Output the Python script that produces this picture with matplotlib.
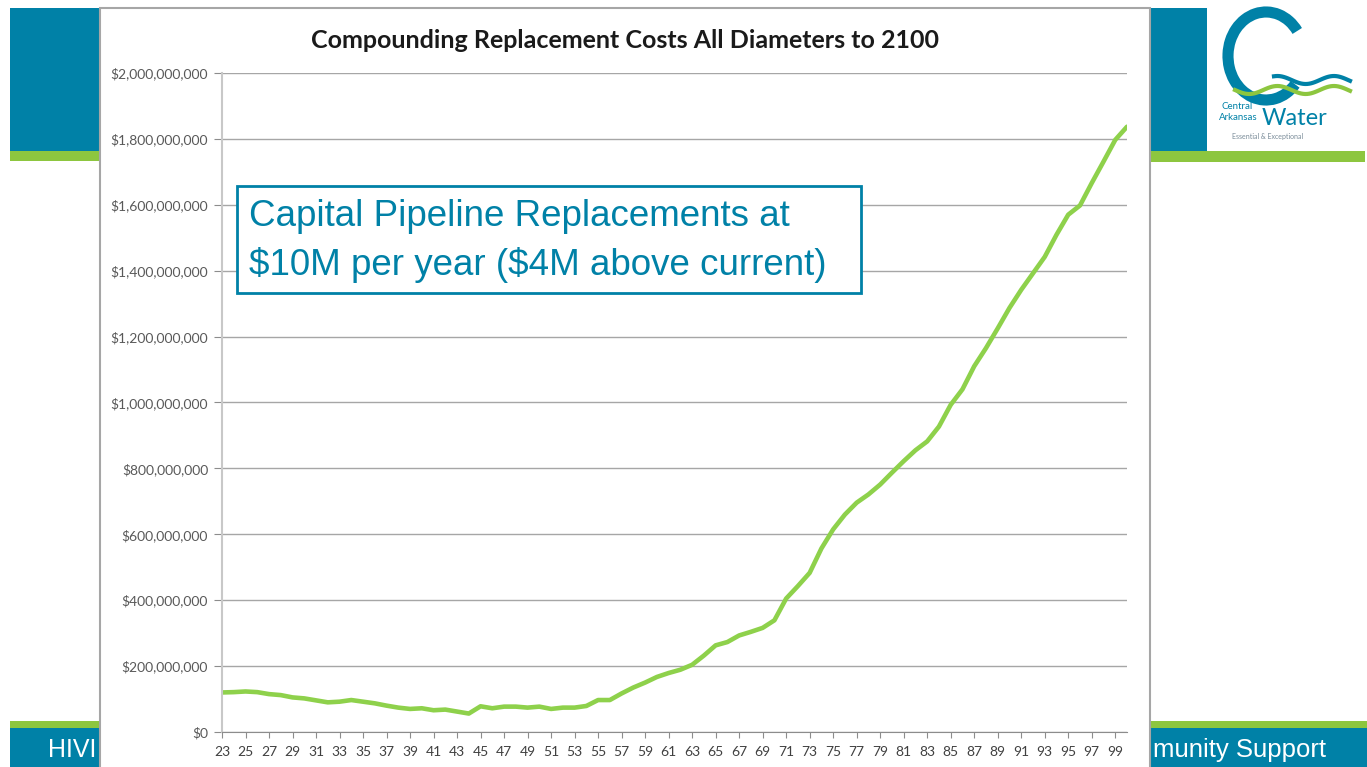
import numpy as np
import matplotlib.pyplot as plt
from matplotlib.patches import Rectangle, Arc
from matplotlib.ticker import FuncFormatter

plt.rcParams['text.parse_math'] = False

# compounding replacement cost by year (millions of dollars)
years = list(range(2023, 2101))
cost_m = [120, 121, 123, 121, 115, 112, 105, 102, 96, 90,
          92, 97, 92, 87, 80, 74, 70, 72, 66, 68,
          62, 56, 78, 72, 77, 77, 74, 77, 70, 74,
          74, 79, 97, 97, 117, 135, 150, 167, 179, 189,
          204, 232, 263, 273, 293, 304, 316, 339, 405, 443,
          483, 557, 615, 660, 696, 721, 751, 787, 822, 855,
          882, 927, 993, 1040, 1110, 1165, 1225, 1287, 1342, 1392,
          1442, 1509, 1570, 1598, 1666, 1731, 1797, 1837]
tick_years = list(range(2023, 2100, 2))
y_ticks = list(range(0, 2000000001, 200000000))

title = 'Compounding Replacement Costs All Diameters to 2100'
note_lines = ['Capital Pipeline Replacements at', '$10M per year ($4M above current)']

W, H = 1367, 767
TEAL = '#0081A7'
GREEN = '#8DC63F'
LINE = '#8ED14B'


def fx(px):
    return px / W


def fy(py):
    return 1 - py / H


def rect(x0, y0, x1, y1, **kw):
    # rectangle in pixel coords (y downward)
    r = Rectangle((fx(x0), fy(y1)), fx(x1) - fx(x0), fy(y0) - fy(y1),
                  transform=fig.transFigure, **kw)
    fig.add_artist(r)
    return r


fig = plt.figure(figsize=(W / 100, H / 100), dpi=100)
fig.patch.set_facecolor('white')

# slide decoration
rect(10, 8, 100, 151, facecolor=TEAL, edgecolor='none', zorder=1)
rect(10, 151, 100, 161, facecolor=GREEN, edgecolor='none', zorder=1)
rect(1150, 8, 1207, 151, facecolor=TEAL, edgecolor='none', zorder=1)
rect(1150, 151, 1365, 162, facecolor=GREEN, edgecolor='none', zorder=1)
rect(10, 721, 1367, 728, facecolor=GREEN, edgecolor='none', zorder=1)
rect(10, 728, 1367, 767, facecolor=TEAL, edgecolor='none', zorder=1)
fig.text(fx(48), fy(750), 'HIVI', color='white', fontsize=18,
         family='Liberation Sans', va='center', ha='left', zorder=1.5)
fig.text(fx(1153), fy(750), 'munity Support', color='white', fontsize=18.5,
         family='Liberation Sans', va='center', ha='left', zorder=1.5)

# logo
arc = Arc((fx(1266), fy(56)), fx(76), 88 / H, theta1=55, theta2=300,
          transform=fig.transFigure, color=TEAL, lw=8, zorder=2)
fig.add_artist(arc)
wx = np.linspace(1235, 1350, 60)
fig.add_artist(plt.Line2D(fx(wx), fy(90 + 4 * np.sin((wx - 1235) / 9)),
                          transform=fig.transFigure, color=GREEN, lw=3, zorder=2))
fig.add_artist(plt.Line2D(fx(wx[20:]), fy(80 + 4 * np.sin((wx[20:] - 1235) / 9)),
                          transform=fig.transFigure, color=TEAL, lw=3, zorder=2))
fig.text(fx(1221), fy(109), 'Central', color=TEAL, fontsize=7, family='Lato', zorder=2)
fig.text(fx(1219), fy(120), 'Arkansas', color=TEAL, fontsize=7, family='Lato', zorder=2)
fig.text(fx(1262), fy(125), 'Water', color=TEAL, fontsize=17, family='Lato', zorder=2)
fig.text(fx(1232), fy(139), 'Essential & Exceptional', color='#7A8C99', fontsize=5,
         family='Lato', zorder=2)

# chart box
rect(100, 8, 1150, 772, facecolor='white', edgecolor='#A6A6A6', lw=1.5, zorder=3)

fig.text(fx(625), fy(40), title, ha='center', va='center', fontsize=18,
         fontweight='bold', family='Lato', color='#1A1A1A', zorder=4)

ax = fig.add_axes([fx(222), fy(732), fx(1127) - fx(222), fy(73) - fy(732)])
ax.set_zorder(5)
ax.patch.set_alpha(0)
ax.plot(years, np.array(cost_m) * 1e6, color=LINE, lw=3.3, solid_capstyle='round')
ax.set_xlim(2023, 2100)
ax.set_ylim(0, 2000000000)
ax.set_yticks(y_ticks)
ax.yaxis.set_major_formatter(FuncFormatter(lambda v, p: '${:,.0f}'.format(v)))
ax.set_xticks(tick_years)
ax.set_xticklabels([str(y)[2:] for y in tick_years])
ax.grid(axis='y', color='#A6A6A6', lw=1)
ax.set_axisbelow(True)
for s in ['top', 'right']:
    ax.spines[s].set_visible(False)
ax.spines['left'].set_color('#C8C8C8')
ax.spines['left'].set_linewidth(1.5)
ax.spines['bottom'].set_color('#8C8C8C')
ax.tick_params(axis='y', length=6, color='#8C8C8C', labelsize=10, labelcolor='#595959', pad=4)
ax.tick_params(axis='x', length=4, color='#8C8C8C', labelsize=10, labelcolor='#404040', pad=6)
for lab in ax.get_xticklabels() + ax.get_yticklabels():
    lab.set_family('Lato')

# note box
rect(237, 186, 861, 293, facecolor='white', edgecolor=TEAL, lw=2, zorder=6)
fig.text(fx(249), fy(217), note_lines[0], color=TEAL, fontsize=26.5,
         family='Liberation Sans', va='center', ha='left', zorder=7)
fig.text(fx(249), fy(265), note_lines[1], color=TEAL, fontsize=26.5,
         family='Liberation Sans', va='center', ha='left', zorder=7)

plt.savefig('out.png', dpi=100)
